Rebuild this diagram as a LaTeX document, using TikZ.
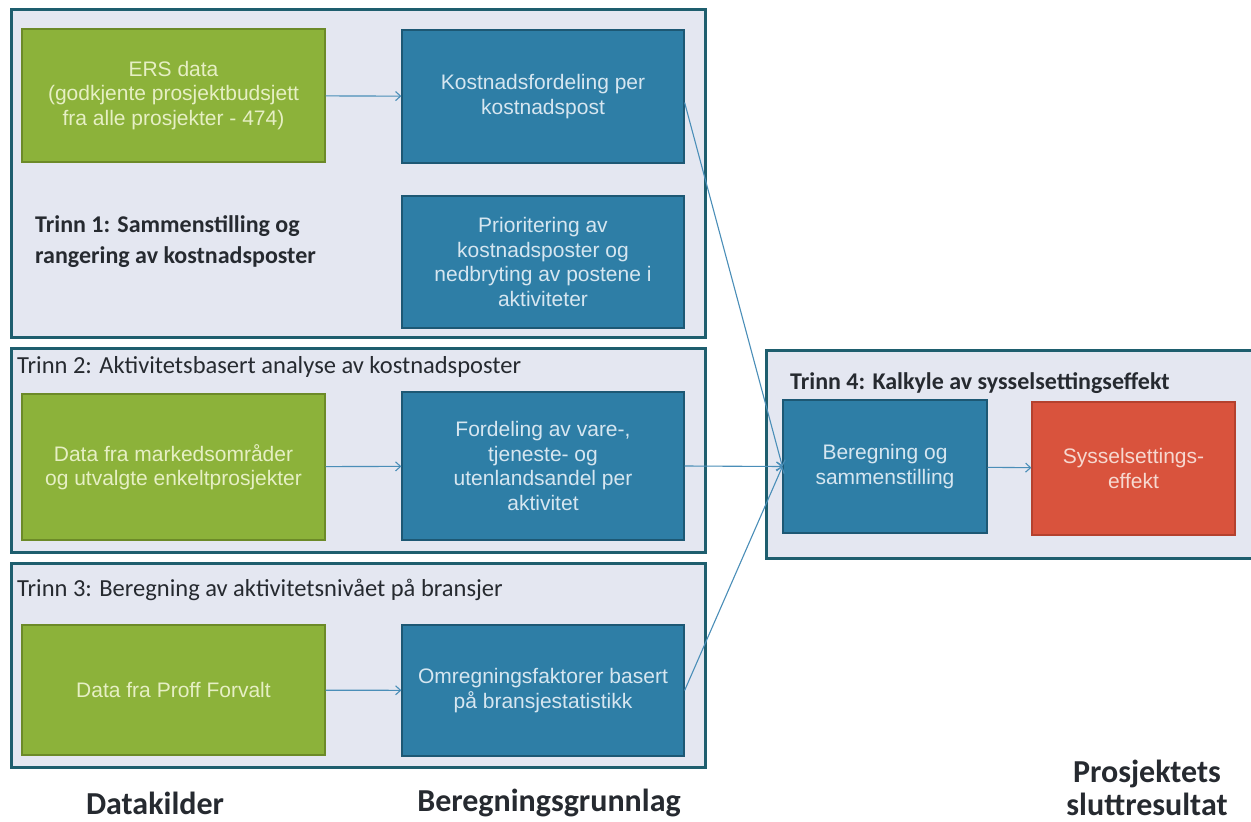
\documentclass[tikz,border=0pt]{standalone}
\usepackage{fontspec}
\setmainfont{Liberation Sans}
\newfontfamily\calib{Carlito}
\usetikzlibrary{arrows.meta}
\definecolor{framebg}{HTML}{E4E7F1}
\definecolor{framec}{HTML}{1E5E6E}
\definecolor{greenc}{HTML}{8CB23A}
\definecolor{greenb}{HTML}{6C8A28}
\definecolor{greent}{HTML}{E6EFC4}
\definecolor{bluec}{HTML}{2E7EA6}
\definecolor{blueb}{HTML}{1D5874}
\definecolor{bluet}{HTML}{D6E6F0}
\definecolor{redc}{HTML}{D9533D}
\definecolor{redb}{HTML}{B4412E}
\definecolor{redt}{HTML}{F6D8D0}
\definecolor{linec}{HTML}{4A8EB8}
\definecolor{titlec}{HTML}{262A30}
\tikzset{
  stage/.style={draw=framec, line width=2.5pt, fill=framebg, anchor=north west, inner sep=0pt},
  box/.style={line width=1.2pt, align=center, inner sep=2pt,
    font=\fontsize{21}{24.5}\selectfont},
  srcbox/.style={box, fill=greenc, draw=greenb, text=greent},
  calcbox/.style={box, fill=bluec, draw=blueb, text=bluet},
  resbox/.style={box, fill=redc, draw=redb, text=redt},
  stagetitle/.style={text=titlec, inner sep=0pt, align=left,
    font=\calib\fontsize{24.5}{31}\selectfont},
  boldtitle/.style={stagetitle, font=\calib\bfseries\fontsize{24}{31}\selectfont},
  coltitle/.style={text=titlec, inner sep=0pt, align=center,
    font=\calib\bfseries\fontsize{32}{33}\selectfont},
  conn/.style={draw=linec, line width=1.1pt, -{Straight Barb[length=5pt,width=9pt]}}
}
\begin{document}
\begin{tikzpicture}[x=1pt, y=-1pt]
\useasboundingbox (0,0) rectangle (1251,822);
\fill[white] (0,0) rectangle (1251,822);

% stage frames
\node[stage, minimum width=694pt, minimum height=328pt] (f1) at (10,8) {};
\node[stage, minimum width=694pt, minimum height=204pt] (f2) at (10,347) {};
\node[stage, minimum width=694pt, minimum height=204pt] (f3) at (10,562) {};
\node[stage, minimum width=492pt, minimum height=208pt] (f4) at (765,349) {};

% stage titles
\node[boldtitle, anchor=west] (t1) at (35,242)
  {Trinn 1: Sammenstilling og\\rangering av kostnadsposter};
\node[stagetitle, anchor=west] (t2) at (17,367) {Trinn 2: Aktivitetsbasert analyse av kostnadsposter};
\node[stagetitle, anchor=west] (t3) at (17,590) {Trinn 3: Beregning av aktivitetsnivået på bransjer};
\node[boldtitle, anchor=west] (t4) at (790,383) {Trinn 4: Kalkyle av sysselsettingseffekt};

% stage 1
\node[srcbox, minimum width=303pt, minimum height=133pt] (g1) at (173.5,95.5)
  {ERS data\\(godkjente prosjektbudsjett\\fra alle prosjekter - 474)};
\node[calcbox, minimum width=282pt, minimum height=133pt] (b1) at (543,96.5)
  {Kostnadsfordeling per\\kostnadspost};
\node[calcbox, minimum width=282pt, minimum height=132pt] (b2) at (543,262)
  {Prioritering av\\kostnadsposter og\\nedbryting av postene i\\aktiviteter};

% stage 2
\node[srcbox, minimum width=303pt, minimum height=146pt] (g2) at (173.5,467)
  {Data fra markedsområder\\og utvalgte enkeltprosjekter};
\node[calcbox, minimum width=282pt, minimum height=148pt] (b3) at (543,466)
  {Fordeling av vare-,\\tjeneste- og\\utenlandsandel per\\aktivitet};

% stage 3
\node[srcbox, minimum width=303pt, minimum height=130pt] (g3) at (173.5,690)
  {Data fra Proff Forvalt};
\node[calcbox, minimum width=282pt, minimum height=131pt] (b4) at (543,690.5)
  {Omregningsfaktorer basert\\på bransjestatistikk};

% stage 4
\node[calcbox, minimum width=204pt, minimum height=133pt] (b5) at (885,466.5)
  {Beregning og\\sammenstilling};
\node[resbox, minimum width=203pt, minimum height=133pt] (r1) at (1133.5,468.5)
  {Sysselsettings-\\effekt};

% connectors
\draw[conn] (g1) -- (b1);
\draw[conn] (g2) -- (b3);
\draw[conn] (g3) -- (b4);
\draw[conn] ([yshift=-6pt]b1.east) -- (b5.west);
\draw[conn] (b3.east) -- (b5.west);
\draw[conn] (b4.east) -- (b5.west);
\draw[conn] (b5) -- (r1);

% column captions
\node[coltitle] (c1) at (155,803) {Datakilder};
\node[coltitle] (c2) at (549,803) {Beregningsgrunnlag};
\node[coltitle] (c3) at (1147,788) {Prosjektets\\sluttresultat};
\end{tikzpicture}
\end{document}
